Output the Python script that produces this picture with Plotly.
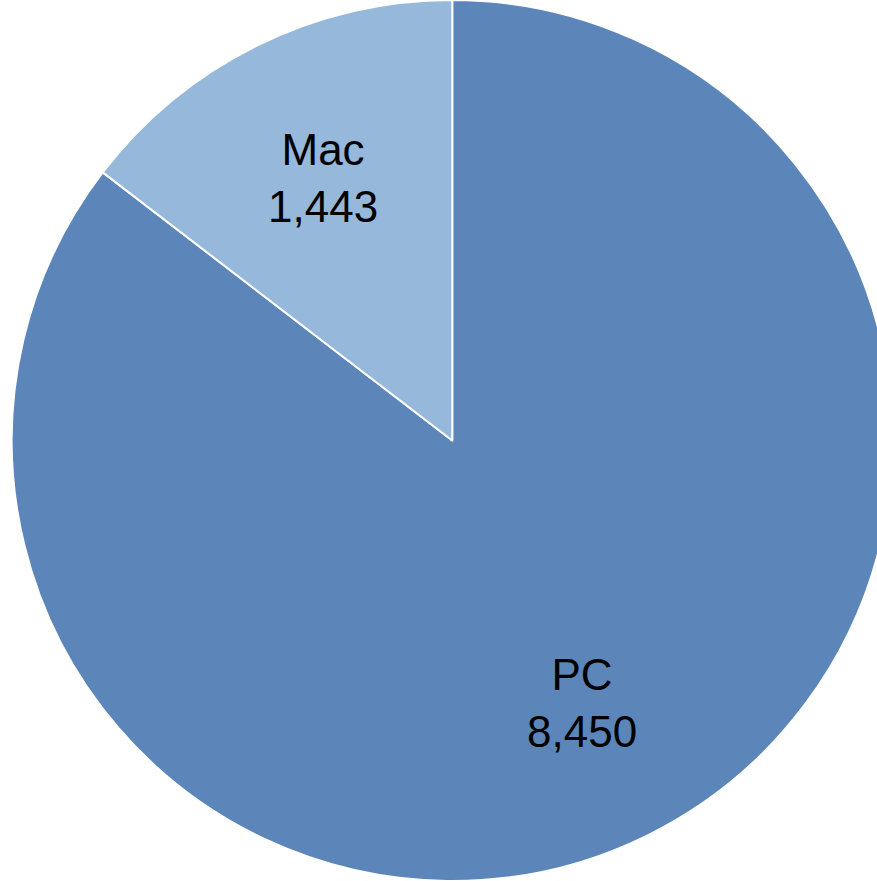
import math
import plotly.graph_objects as go

labels = ["PC", "Mac"]
values = [8450, 1443]
colors = ["#5C86B9", "#95B8DB"]

W, H = 893, 881
dom_x = [11.5 / W, 1.0]
dom_y = [0.0, 1.0]

fig = go.Figure(go.Pie(
    labels=labels,
    values=values,
    sort=False,
    direction="clockwise",
    rotation=0,
    domain=dict(x=dom_x, y=dom_y),
    marker=dict(colors=colors, line=dict(color="white", width=2)),
    textinfo="none",
    hoverinfo="label+value",
    showlegend=False,
))

# data labels placed along each slice's mid-angle (Excel-style best fit)
cx = (dom_x[0] + dom_x[1]) / 2 * W
cy = (1 - (dom_y[0] + dom_y[1]) / 2) * H
R = min((dom_x[1] - dom_x[0]) * W, (dom_y[1] - dom_y[0]) * H) / 2
total = sum(values)
start = 0.0
for lab, val in zip(labels, values):
    frac = val / total
    mid = (start + frac / 2) * 2 * math.pi
    start += frac
    r = 0.665 * R
    px = cx + r * math.sin(mid)
    py = cy - r * math.cos(mid)
    fig.add_annotation(
        x=px / W, y=1 - py / H, xref="paper", yref="paper",
        text=f"{lab}<br>{val:,}", showarrow=False,
        xanchor="center", yanchor="middle",
        font=dict(family="Liberation Sans, Arial", size=44, color="black"),
    )

fig.update_layout(
    width=W, height=H,
    margin=dict(l=0, r=0, t=0, b=0),
    paper_bgcolor="white",
)
fig.write_html(
    "out.html",
    config={"displayModeBar": False},
    post_script="document.body.style.margin='0';",
)
